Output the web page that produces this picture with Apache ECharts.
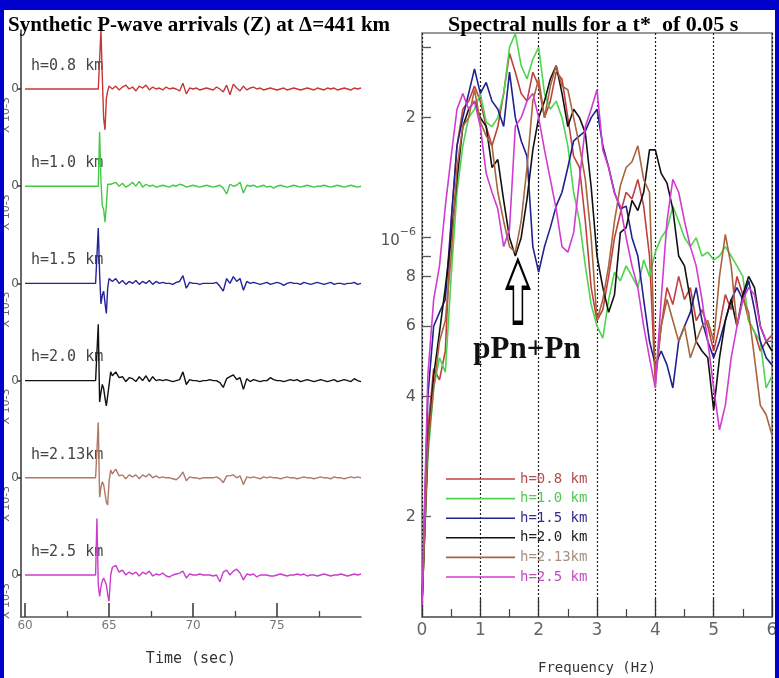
<!DOCTYPE html>
<html>
<head>
<meta charset="utf-8">
<script src="https://cdn.jsdelivr.net/npm/echarts@6/dist/echarts.min.js"></script>
<style>
html,body{margin:0;padding:0;background:#0000cd;}
#chart{width:779px;height:678px;}
</style>
</head>
<body>
<div id="chart"></div>
<script>
// ---- Synthetic vertical seismograms (amplitude x 10^-3, one trace per source depth) ----
const traceLabels = ['h=0.8 km', 'h=1.0 km', 'h=1.5 km', 'h=2.0 km', 'h=2.13km', 'h=2.5 km'];
const traceTimes = [60, 64.2, 64.28, 64.36, 64.44, 64.52, 64.6, 64.68, 64.76, 64.84, 64.92, 65.0, 65.1, 65.2,
  65.4, 65.6, 65.8, 66, 66.2, 66.4, 66.6, 66.8, 67, 67.2, 67.4, 67.6, 67.8, 68, 68.2, 68.4, 68.6, 68.8, 69, 69.2,
  69.4, 69.6, 69.8, 70, 70.2, 70.4, 70.6, 70.8, 71, 71.2, 71.4, 71.6, 71.8, 72, 72.2, 72.4, 72.6, 72.8, 73, 73.2,
  73.4, 73.6, 73.8, 74, 74.2, 74.4, 74.6, 74.8, 75, 75.2, 75.4, 75.6, 75.8, 76, 76.2, 76.4, 76.6, 76.8, 77, 77.2,
  77.4, 77.6, 77.8, 78, 78.2, 78.4, 78.6, 78.8, 79, 79.2, 79.4, 79.6, 79.8, 80];

const wave08 = [0, 0, 0, 0, 0.02, 0.61, 0.12, -0.3, -0.42, -0.1, -0.02, 0.03, 0.04, 0.0,
  0.03, -0.01, 0.02, 0.04, 0.0, 0.02, -0.02, 0.03, 0.01, 0.04, -0.01, 0.02, 0.0, 0.01, -0.01, 0.02, 0.0, 0.01, 0.0, -0.02,
  0.06, -0.05, 0.01, 0.0, 0.01, -0.01, 0.0, 0.01, 0.0, -0.01, 0.02, 0.0, -0.03, 0.04, -0.06, 0.05, 0.01, -0.02, 0.03, -0.01,
  0.01, 0.02, 0.0, 0.01, -0.01, 0.0, 0.01, 0.0, -0.01, 0.0, 0.01, -0.01, 0.0, 0.01, 0.0, -0.01, 0.0, 0.01, 0.0, -0.01,
  0.01, 0.0, -0.01, 0.01, 0.0, 0.01, -0.01, 0.0, 0.01, 0.0, -0.01, 0.01, 0.0, 0.01];
const wave10 = [0, 0, 0, 0, 0.56, 0.05, -0.2, -0.24, -0.37, -0.2, 0.02, 0.04, 0.02, 0.0,
  0.04, 0.0, 0.03, -0.01, 0.01, 0.04, 0.0, 0.05, -0.01, 0.02, 0.0, 0.01, -0.01, 0.0, 0.01, 0.0, -0.01, 0.01, 0.0, 0.02,
  0.01, -0.01, 0.0, 0.01, 0.0, -0.01, 0.0, 0.01, 0.0, -0.01, 0.0, 0.01, -0.02, -0.08, 0.02, 0.0, 0.01, 0.04, -0.07, 0.01,
  0.0, 0.01, -0.01, 0.0, 0.01, -0.01, 0.0, -0.02, 0.0, 0.01, 0.0, -0.01, 0.0, 0.01, 0.0, -0.01, 0.0, 0.01, 0.0, -0.01,
  0.0, 0.0, 0.01, 0.0, -0.01, 0.0, 0.01, 0.0, -0.01, 0.0, 0.01, 0.0, -0.01, 0.0];
const wave15 = [0, 0, 0, 0.57, 0.1, -0.21, -0.12, -0.08, -0.2, -0.31, -0.05, 0.05, 0.06, 0.02,
  0.05, 0.0, 0.03, -0.01, 0.02, 0.0, 0.03, -0.01, 0.02, 0.0, 0.03, -0.01, 0.02, 0.0, 0.01, 0.0, 0.0, -0.01, 0.01, 0.02,
  0.08, -0.05, 0.01, 0.0, 0.0, -0.01, 0.0, 0.0, 0.0, 0.0, 0.01, -0.03, -0.08, 0.05, 0.0, 0.07, 0.02, 0.05, -0.07, 0.02,
  0.0, 0.01, 0.0, -0.01, 0.0, 0.01, -0.01, 0.0, 0.01, 0.0, -0.02, 0.0, 0.01, 0.0, 0.0, -0.01, 0.01, 0.0, -0.01, 0.0,
  0.01, 0.0, -0.01, 0.0, 0.01, -0.01, 0.0, 0.0, -0.01, 0.0, 0.0, 0.01, -0.01, 0.0];
const wave20 = [0, 0, 0, 0.58, -0.22, -0.12, -0.04, -0.08, -0.18, -0.26, -0.28, -0.05, 0.09, 0.05,
  0.09, 0.03, 0.04, -0.01, 0.03, 0.02, -0.01, 0.04, 0.0, 0.05, -0.01, 0.04, 0.0, 0.01, 0.0, 0.01, 0.0, -0.01, 0.0, 0.01,
  0.09, -0.04, 0.01, 0.0, 0.0, -0.01, 0.0, 0.0, 0.01, 0.0, 0.0, -0.02, -0.07, 0.02, 0.04, 0.06, 0.01, 0.03, -0.09, 0.02,
  -0.01, 0.01, 0.0, -0.01, 0.0, 0.0, 0.03, 0.01, 0.0, 0.0, -0.01, 0.0, 0.01, 0.0, 0.01, -0.01, 0.0, 0.01, 0.0, -0.01,
  0.0, 0.01, 0.0, -0.01, 0.0, 0.01, -0.01, 0.0, 0.01, 0.0, -0.01, 0.02, 0.0, -0.01];
const wave213 = [0, 0, 0, 0.57, -0.2, -0.1, -0.04, -0.07, -0.16, -0.25, -0.28, -0.04, 0.08, 0.04,
  0.09, 0.02, 0.03, -0.01, 0.03, 0.01, 0.03, -0.01, 0.03, 0.01, 0.04, 0.0, 0.02, 0.0, 0.01, 0.0, 0.0, -0.01, -0.02, 0.01,
  0.06, -0.03, 0.01, 0.0, 0.0, -0.01, 0.0, 0.0, 0.0, 0.0, 0.01, -0.01, -0.05, 0.02, 0.02, 0.03, 0.0, 0.02, -0.07, 0.01,
  0.0, 0.01, 0.0, -0.01, 0.01, 0.0, 0.01, 0.0, 0.0, -0.01, 0.0, 0.01, 0.0, 0.0, -0.01, 0.0, 0.01, 0.0, 0.0, -0.01,
  0.0, 0.01, 0.0, 0.0, -0.01, 0.01, 0.0, 0.0, -0.01, 0.0, 0.01, 0.0, 0.01, 0.0];
const wave25 = [0, 0, 0.58, -0.1, -0.22, -0.12, -0.06, -0.03, -0.03, -0.1, -0.2, -0.27, 0.0, 0.08,
  0.1, 0.03, 0.05, 0.0, 0.03, 0.01, 0.03, -0.01, 0.03, 0.01, 0.04, -0.01, 0.01, 0.0, 0.02, -0.01, -0.02, 0.0, 0.01, 0.02,
  0.04, -0.03, 0.01, 0.0, 0.0, 0.01, 0.0, 0.0, 0.0, -0.01, 0.0, -0.07, 0.03, 0.05, 0.0, 0.04, 0.06, 0.02, -0.05, 0.01,
  0.0, 0.01, -0.02, 0.0, 0.0, 0.0, -0.01, -0.01, 0.0, 0.01, 0.0, -0.01, 0.0, 0.0, 0.01, 0.0, 0.01, -0.01, 0.0, 0.0,
  -0.01, 0.0, 0.01, 0.0, -0.01, 0.0, 0.0, 0.01, 0.0, -0.01, 0.0, 0.01, 0.0, 0.01];
const traceWaves = [wave08, wave10, wave15, wave20, wave213, wave25];
const traceColors = ['#c83737', '#45c845', '#23239a', '#111111', '#b07868', '#cc3ccc'];
const timeTickLabels = [60, 65, 70, 75];
const timeMinorTicks = [62.5, 67.5, 72.5, 77.5];

// ---- Amplitude spectra (x 10^-6), sampled every 0.1 Hz ----
const freqs = [0, 0.1, 0.2, 0.3, 0.4, 0.5, 0.6, 0.7, 0.8, 0.9, 1.0, 1.1, 1.2, 1.3, 1.4, 1.5, 1.6, 1.7, 1.8, 1.9,
  2.0, 2.1, 2.2, 2.3, 2.4, 2.5, 2.6, 2.7, 2.8, 2.9, 3.0, 3.1, 3.2, 3.3, 3.4, 3.5, 3.6, 3.7, 3.8, 3.9,
  4.0, 4.1, 4.2, 4.3, 4.4, 4.5, 4.6, 4.7, 4.8, 4.9, 5.0, 5.1, 5.2, 5.3, 5.4, 5.5, 5.6, 5.7, 5.8, 5.9, 6.0];
const spec08 = [0.12, 0.33, 0.47, 0.44, 0.52, 1.1, 1.7, 2.1, 2.2, 2.4,
  2.2, 1.9, 1.7, 1.9, 2.3, 2.9, 2.6, 2.3, 2.2, 2.6,
  2.4, 2.0, 2.2, 2.6, 2.5, 2.0, 1.6, 1.5, 1.1, 0.75,
  0.62, 0.66, 0.8, 1.0, 1.15, 1.3, 1.25, 1.4, 1.2, 0.9,
  0.43, 0.6, 0.75, 0.68, 0.8, 0.7, 0.75, 0.62, 0.66, 0.6,
  0.52, 0.6, 0.72, 0.66, 0.8, 0.72, 0.62, 0.58, 0.52, 0.55, 0.57];
const spec10 = [0.12, 0.28, 0.42, 0.5, 0.46, 0.8, 1.3, 1.7, 2.0, 2.1,
  2.3, 1.95, 1.9, 2.0, 2.3, 3.0, 3.25, 2.7, 2.5, 2.8,
  3.0, 2.3, 2.1, 2.2, 2.0, 1.7, 1.3, 1.1, 0.85, 0.68,
  0.6, 0.56, 0.7, 0.82, 0.78, 0.85, 0.8, 0.75, 0.88, 0.8,
  0.92, 1.0, 1.05, 1.2, 1.1, 1.0, 0.95, 1.0, 0.9, 0.92,
  0.88, 0.9, 0.95, 0.9, 0.85, 0.8, 0.62, 0.58, 0.55, 0.42, 0.45];
const spec15 = [0.12, 0.4, 0.6, 0.65, 0.7, 1.1, 1.7, 2.0, 2.3, 2.65,
  2.3, 2.45, 2.2, 2.1, 1.9, 2.6, 2.0, 1.75, 1.6, 0.95,
  0.82, 0.95, 1.06, 1.2, 1.3, 1.5, 1.75, 1.8, 1.85, 2.0,
  2.1, 1.7, 1.5, 1.3, 1.18, 1.2, 1.0, 0.9, 0.7, 0.55,
  0.48, 0.52, 0.48, 0.42, 0.55, 0.6, 0.65, 0.75, 0.62, 0.55,
  0.5, 0.55, 0.62, 0.7, 0.75, 0.7, 0.78, 0.66, 0.55, 0.5, 0.48];
const spec20 = [0.12, 0.3, 0.45, 0.58, 0.75, 1.0, 1.4, 1.9, 2.1, 2.2,
  2.0, 1.9, 1.5, 1.57, 1.24, 1.0, 0.9, 1.0, 1.25, 1.66,
  2.0, 2.2, 2.5, 2.7, 2.3, 1.9, 2.1, 2.0, 1.83, 1.34,
  0.9, 0.75, 0.65, 0.72, 1.03, 1.06, 1.24, 1.17, 1.3, 1.66,
  1.66, 1.45, 1.37, 1.18, 0.9, 0.85, 0.7, 0.55, 0.52, 0.5,
  0.37, 0.5, 0.62, 0.7, 0.6, 0.72, 0.8, 0.75, 0.6, 0.55, 0.52];
const spec213 = [0.12, 0.3, 0.42, 0.55, 0.62, 0.9, 1.5, 1.9, 2.0, 2.35,
  1.95, 1.8, 1.7, 1.3, 1.1, 0.95, 0.92, 1.1, 1.5, 2.2,
  2.5, 2.0, 2.4, 2.7, 2.4, 2.35, 2.0, 1.7, 1.4, 1.0,
  0.62, 0.7, 0.85, 1.1, 1.35, 1.5, 1.55, 1.7, 1.4, 1.3,
  0.45, 0.6, 0.7, 0.62, 0.55, 0.6, 0.5, 0.55, 0.6, 0.62,
  0.55, 0.8, 1.02, 0.85, 0.6, 0.7, 0.65, 0.5, 0.38, 0.36, 0.32];
const spec25 = [0.12, 0.45, 0.7, 0.85, 1.2, 1.6, 2.1, 2.3, 2.1, 2.2,
  1.9, 1.45, 1.3, 1.18, 0.95, 1.05, 1.9, 2.0, 2.2, 2.3,
  2.0, 1.66, 1.4, 1.18, 0.95, 0.92, 1.03, 1.4, 1.9, 2.1,
  2.35, 1.66, 1.5, 1.29, 1.2, 1.0, 0.85, 0.75, 0.6, 0.5,
  0.42, 0.7, 1.1, 1.4, 1.3, 1.1, 0.95, 0.85, 0.7, 0.55,
  0.42, 0.33, 0.38, 0.5, 0.6, 0.7, 0.75, 0.72, 0.6, 0.55, 0.55];
const spectra = [spec08, spec10, spec15, spec20, spec213, spec25];
const specColors = ['#c04040', '#4fd44f', '#202090', '#111111', '#a8643c', '#d03cd0'];
const legendTextColors = ['#b05050', '#55c855', '#303090', '#222222', '#a89080', '#c050c0'];
const ampTickValues = [2e-7, 4e-7, 6e-7, 8e-7, 9e-7, 1e-6, 2e-6, 3e-6];
const ampLabelValues = [2e-7, 4e-7, 6e-7, 8e-7, 1e-6, 2e-6];
const ampLabelTexts = ['2', '4', '6', '8', '{b|10}{s|\u22126}', '2'];
const ampMin = 1.12e-7, ampMax = 3.26e-6;

const MONO = '"DejaVu Sans Mono", monospace';
const SERIF = '"Liberation Serif", "Times New Roman", serif';
const SANS = '"DejaVu Sans", sans-serif';

const chart = echarts.init(document.getElementById('chart'), null, {renderer: 'canvas'});

// Each seismogram is stacked one unit below the previous one.
const traceSeries = traceWaves.map((w, k) => ({
  type: 'line', name: 'trace ' + traceLabels[k], xAxisIndex: 0, yAxisIndex: 0,
  data: traceTimes.map((t, i) => [t, -k + w[i]]),
  symbol: 'none', animation: false, silent: true,
  lineStyle: {color: traceColors[k], width: 1.4}
}));

const specSeries = spectra.map((s, k) => ({
  type: 'line', name: traceLabels[k], xAxisIndex: 1, yAxisIndex: 1,
  data: freqs.map((f, i) => [f, s[i] * 1e-6]),
  symbol: 'none', animation: false, silent: true,
  color: specColors[k],
  lineStyle: {color: specColors[k], width: 1.6}
}));

// Hollow arrow and caption marking the depth-phase null
specSeries[3].markPoint = {
  silent: true, animation: false,
  data: [
    {coord: [1.644, 0.734e-6], symbol: 'path://M11,0 L22,28 L15.5,28 L15.5,63 L6.5,63 L6.5,28 L0,28 Z',
     symbolSize: [22, 63], itemStyle: {color: '#ffffff', borderColor: '#000', borderWidth: 2.6},
     label: {show: false}},
    {coord: [1.80, 0.524e-6], symbol: 'rect', symbolSize: 1,
     itemStyle: {color: 'rgba(0,0,0,0)'},
     label: {show: true, position: 'inside', formatter: 'pPn+Pn', fontFamily: SERIF,
             fontWeight: 'bold', fontSize: 31, color: '#111'}}
  ]
};

const lg = Math.log10;

chart.setOption({
  backgroundColor: '#ffffff',
  animation: false,
  title: [
    {text: 'Synthetic P-wave arrivals (Z) at \u0394=441 km', left: 3, top: 10,
     textStyle: {fontFamily: SERIF, fontWeight: 'bold', fontSize: 21, color: '#000'}},
    {text: 'Spectral nulls for a t*  of 0.05 s', left: 443, top: 9,
     textStyle: {fontFamily: SERIF, fontWeight: 'bold', fontSize: 22, color: '#000'}}
  ],
  legend: {
    data: traceLabels.map((n, k) => ({name: n, textStyle: {color: legendTextColors[k]}})),
    orient: 'vertical', left: 441, top: 467,
    icon: 'rect', itemWidth: 69, itemHeight: 1.6, itemGap: 5.6,
    textStyle: {fontFamily: MONO, fontSize: 14, lineHeight: 14},
    selectedMode: false
  },
  grid: [
    {left: 21, top: 30, width: 340, height: 587, outerBoundsMode: 'none', containLabel: false},
    {left: 422, top: 33, width: 350, height: 584, show: true, borderColor: '#777', borderWidth: 1.5,
     backgroundColor: 'rgba(0,0,0,0)', outerBoundsMode: 'none', containLabel: false}
  ],
  xAxis: [
    {type: 'value', gridIndex: 0, min: 59.76, max: 80, position: 'bottom',
     axisLine: {onZero: false, lineStyle: {color: '#555', width: 1.5}},
     axisTick: {customValues: timeTickLabels, inside: true, length: 14, lineStyle: {color: '#333', width: 1.5}},
     axisLabel: {customValues: timeTickLabels, color: '#777', fontSize: 12, margin: 3, fontFamily: SANS},
     splitLine: {show: false},
     name: 'Time (sec)', nameLocation: 'middle', nameGap: 35,
     nameTextStyle: {fontFamily: MONO, fontSize: 15, color: '#333'}},
    {type: 'value', gridIndex: 1, min: 0, max: 6, interval: 1, position: 'bottom',
     axisLine: {onZero: false, lineStyle: {color: '#666', width: 1.5}},
     axisTick: {inside: true, length: 18, lineStyle: {color: '#333', width: 1.3}},
     minorTick: {show: true, splitNumber: 2, length: 8, lineStyle: {color: '#444', width: 1.2}},
     axisLabel: {color: '#666', fontSize: 17, margin: 5, fontFamily: SANS},
     splitLine: {show: true, lineStyle: {type: [2, 2], color: '#222', width: 1.2}},
     name: 'Frequency (Hz)', nameLocation: 'middle', nameGap: 44,
     nameTextStyle: {fontFamily: MONO, fontSize: 14, color: '#333'}},
    {type: 'value', gridIndex: 0, min: 59.76, max: 80, position: 'bottom', offset: 0,
     axisLine: {show: false, onZero: false},
     axisTick: {customValues: timeMinorTicks, inside: true, length: 6, lineStyle: {color: '#444', width: 1.3}},
     axisLabel: {show: false}, splitLine: {show: false}}
  ],
  yAxis: [
    {type: 'value', gridIndex: 0, min: -5.432, max: 0.607, position: 'left',
     axisLine: {onZero: false, lineStyle: {color: '#333', width: 1.5}},
     axisTick: {customValues: [0, -1, -2, -3, -4, -5], length: 4, lineStyle: {color: '#333', width: 1.5}},
     axisLabel: {customValues: [0, -1, -2, -3, -4, -5], formatter: () => '0', color: '#555',
                 fontSize: 12, margin: 2, fontFamily: SANS},
     splitLine: {show: false}},
    {type: 'log', gridIndex: 1, min: ampMin, max: ampMax, show: false, position: 'right', splitLine: {show: false}},
    {type: 'value', gridIndex: 1, min: lg(ampMin), max: lg(ampMax), position: 'left', offset: 0,
     axisLine: {show: false, onZero: false},
     axisTick: {customValues: ampTickValues.map(lg), inside: true, length: 9, lineStyle: {color: '#555', width: 1.3}},
     axisLabel: {customValues: ampLabelValues.map(lg), margin: 6, color: '#555', fontSize: 16,
                 fontFamily: SANS,
                 formatter: (v) => {
                   const i = ampLabelValues.findIndex(a => Math.abs(lg(a) - v) < 1e-6);
                   return i >= 0 ? ampLabelTexts[i] : '';
                 },
                 rich: {
                   b: {fontSize: 15, color: '#555', fontFamily: SANS, lineHeight: 22, verticalAlign: 'bottom'},
                   s: {fontSize: 11, color: '#555', fontFamily: SANS, lineHeight: 12, verticalAlign: 'top'}
                 }},
     splitLine: {show: false}}
  ],
  series: traceSeries.concat(specSeries)
});

// Depth labels and exponent notes placed at each trace baseline
const graphics = [];
traceLabels.forEach((lab, k) => {
  const y0 = chart.convertToPixel({xAxisIndex: 0, yAxisIndex: 0}, [60, -k])[1];
  graphics.push({type: 'text', x: 31, y: y0 - 23, z: -1,
    style: {text: lab, fill: '#444', font: '15px ' + MONO, align: 'left', verticalAlign: 'middle'}});
  graphics.push({type: 'text', x: 6, y: y0 + 26, rotation: Math.PI / 2, z: -1,
    style: {text: 'X 10-3', fill: '#666', font: '11px ' + SANS, align: 'center', verticalAlign: 'middle'}});
});
// Blue frame around the figure
graphics.push({type: 'rect', shape: {x: 0, y: 0, width: 779, height: 10}, style: {fill: '#0000cd'}, z: 100});
graphics.push({type: 'rect', shape: {x: 0, y: 0, width: 4, height: 678}, style: {fill: '#0000cd'}, z: 100});
graphics.push({type: 'rect', shape: {x: 775, y: 0, width: 4, height: 678}, style: {fill: '#0000cd'}, z: 100});
chart.setOption({graphic: graphics});
</script>
</body>
</html>
